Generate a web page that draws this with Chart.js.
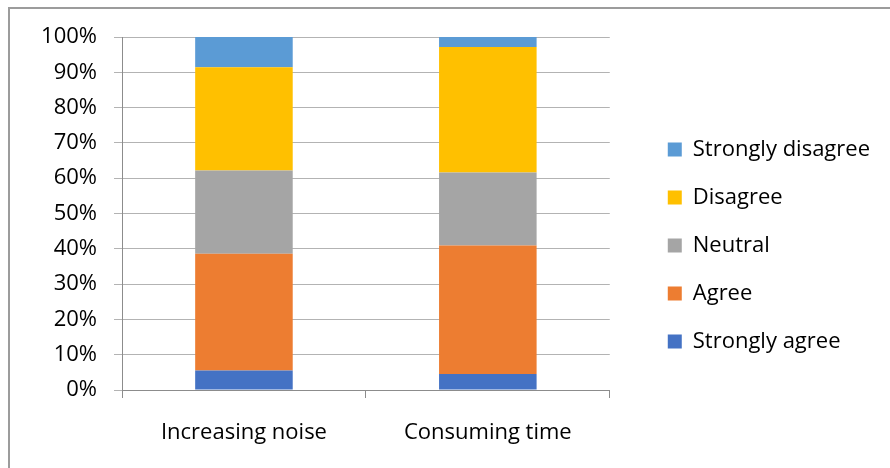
<!DOCTYPE html>
<html lang="en">
<head>
  <meta charset="UTF-8">
  <title>Survey responses</title>
  <script src="https://cdn.jsdelivr.net/npm/chart.js@4/dist/chart.umd.min.js"></script>
  <style>
    body { margin: 0; background: #fff; }
    .wrap { position: relative; width: 890px; height: 468px; }
    .edge {
      position: absolute;
      left: 8px;
      top: 7px;
      right: 0;
      bottom: 0;
      border-top: 2px solid #9c9c9c;
      border-left: 2px solid #9c9c9c;
      pointer-events: none;
    }
    canvas { display: block; }
  </style>
</head>
<body>
  <div class="wrap">
    <canvas id="chart" width="890" height="468"></canvas>
    <div class="edge"></div>
  </div>
  <script>
    // data (percent of responses)
    const categories = ['Increasing noise', 'Consuming time'];
    const stronglyAgree = [5.5, 4.5];
    const agree = [33.1, 36.4];
    const neutral = [23.6, 20.7];
    const disagree = [29.2, 35.6];
    const stronglyDisagree = [8.6, 2.8];
    const yTicks = [0, 10, 20, 30, 40, 50, 60, 70, 80, 90, 100];

    const font = "'Open Sans', 'DejaVu Sans', sans-serif";

    const ds = (label, data, color) => ({
      label, data,
      backgroundColor: color,
      borderWidth: 0,
      barPercentage: 0.8,
      categoryPercentage: 0.5
    });

    new Chart(document.getElementById('chart'), {
      type: 'bar',
      data: {
        labels: categories,
        datasets: [
          ds('Strongly agree', stronglyAgree, '#4472c4'),
          ds('Agree', agree, '#ed7d31'),
          ds('Neutral', neutral, '#a5a5a5'),
          ds('Disagree', disagree, '#ffc000'),
          ds('Strongly disagree', stronglyDisagree, '#5b9bd5')
        ]
      },
      options: {
        responsive: false,
        animation: false,
        layout: { padding: { left: 0, right: 10, top: 37, bottom: 14 } },
        plugins: {
          tooltip: { enabled: false },
          legend: {
            position: 'right',
            reverse: true,
            maxWidth: 400,
            labels: {
              boxWidth: 14,
              boxHeight: 14,
              padding: 26,
              color: '#000',
              font: { family: font, size: 22 }
            }
          }
        },
        scales: {
          x: {
            stacked: true,
            border: { color: '#8c8c8c', width: 1 },
            grid: {
              offset: true,
              drawOnChartArea: false,
              drawTicks: true,
              tickLength: 8,
              color: '#8c8c8c'
            },
            ticks: {
              color: '#000',
              padding: 22,
              font: { family: font, size: 22 }
            },
            afterFit: (s) => { s.height = 64; }
          },
          y: {
            stacked: true,
            min: 0,
            max: 100,
            border: { color: '#8c8c8c', width: 1 },
            grid: { color: '#b3b3b3', tickLength: 8 },
            afterBuildTicks: (s) => { s.ticks = yTicks.map(v => ({ value: v })); },
            ticks: {
              color: '#000',
              padding: 17,
              font: { family: font, size: 22 },
              callback: (v) => v + '%'
            },
            afterFit: (s) => { s.width = 122; }
          },
          // empty spacer between the plot and the legend
          gap: {
            position: 'right',
            display: true,
            border: { display: false },
            grid: { display: false, drawTicks: false },
            ticks: { display: false },
            afterFit: (s) => { s.width = 32; }
          }
        }
      }
    });
  </script>
</body>
</html>
